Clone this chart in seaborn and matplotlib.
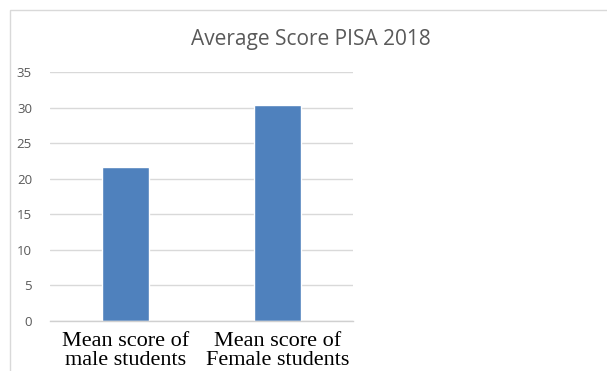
import matplotlib
matplotlib.use("Agg")
import matplotlib.pyplot as plt
import seaborn as sns
import pandas as pd
from matplotlib.patches import Rectangle

categories = ["Mean score of\nmale students", "Mean score of\nFemale students"]
scores = [21.7, 30.3]
yticks = [0, 5, 10, 15, 20, 25, 30, 35]

df = pd.DataFrame({"category": categories, "score": scores})

sns.set_style("white")
plt.rcParams["font.family"] = ["Open Sans", "DejaVu Sans"]

fig = plt.figure(figsize=(6.07, 3.71), dpi=100)
ax = fig.add_axes([50/607, 1-321/371, 303/607, 249/371])

sns.barplot(data=df, x="category", y="score", color="#4f81bd", saturation=1,
            width=0.31, ax=ax, zorder=3)

ax.set_ylim(0, 35)
ax.set_yticks(yticks)
ax.set_xlim(-0.5, 1.5)
ax.grid(axis="y", color="#d9d9d9", linewidth=1, zorder=0)
for s in ["top", "right", "left"]:
    ax.spines[s].set_visible(False)
ax.spines["bottom"].set_color("#d0d0d0")
ax.spines["bottom"].set_linewidth(1)
ax.spines["bottom"].set_zorder(4)
ax.tick_params(axis="y", length=0, labelsize=9.5, labelcolor="#595959", pad=13)
ax.tick_params(axis="x", length=0, pad=8)
ax.set_xlabel("")
ax.set_ylabel("")
for lab in ax.get_xticklabels():
    lab.set_fontfamily("Liberation Serif")
    lab.set_fontsize(16)
    lab.set_color("black")
    lab.set_linespacing(1.0)

fig.text(311/607, 1-40/371, "Average Score PISA 2018", ha="center", va="center",
         fontsize=15, color="#595959")

fig.patches.append(Rectangle((10/607, -0.1), 1.2, 1.1 - 10/371,
                             transform=fig.transFigure, fill=False,
                             edgecolor="#d9d9d9", linewidth=1))

fig.savefig("out.png", dpi=100)
